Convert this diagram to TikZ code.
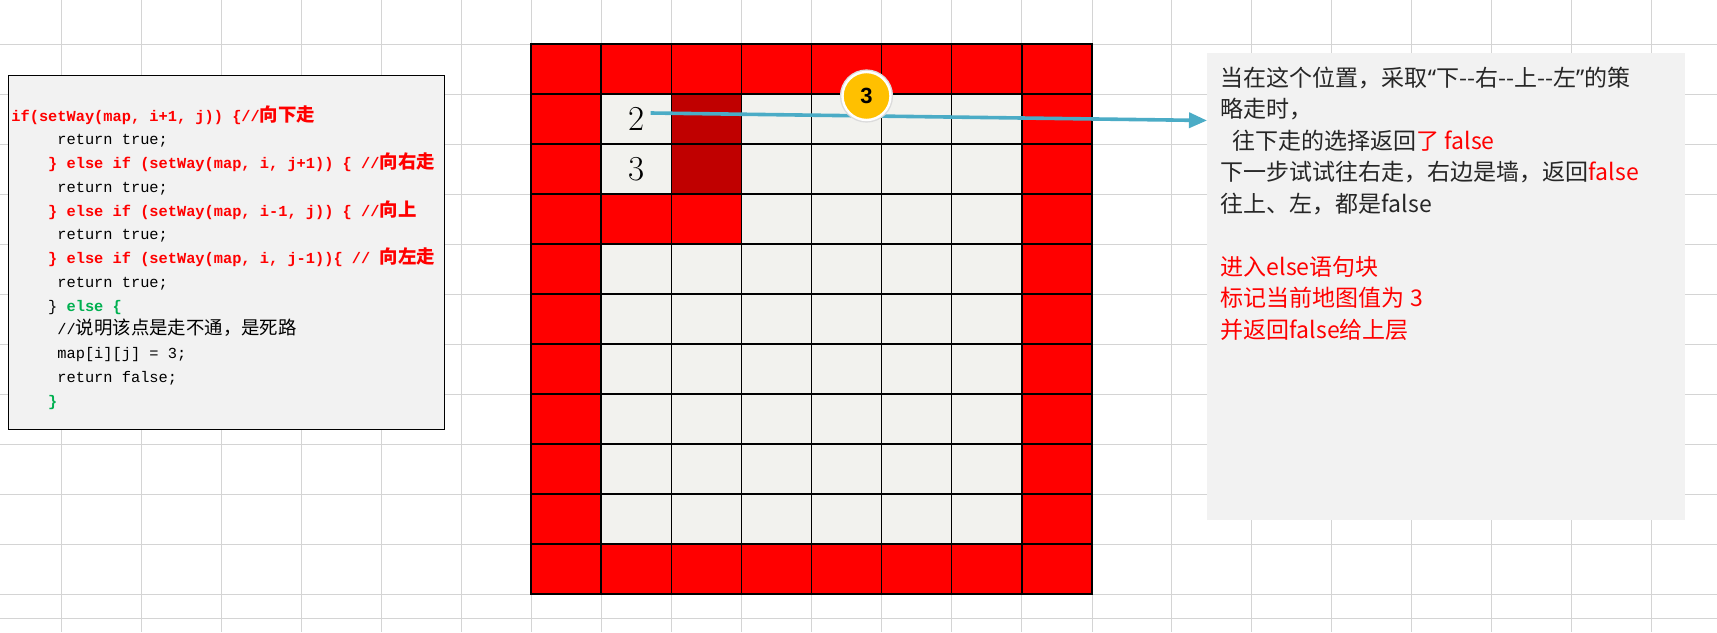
\documentclass[tikz,border=0pt]{standalone}
\usepackage{fontspec}
\usepackage{xcolor}
\usepackage{tikz}
\usetikzlibrary{arrows.meta,positioning}

\setmonofont{Liberation Mono}
\newfontfamily\cjk{Noto Sans CJK SC}
\newfontfamily\cjkcode[Scale=1.2]{Noto Sans CJK SC}
\newfontfamily\badgefont{Liberation Sans}
\newfontfamily\quotefont{Noto Sans}

\definecolor{sheetgray}{RGB}{212,212,212}
\definecolor{paper}{RGB}{242,242,242}
\definecolor{floortint}{RGB}{242,242,238}
\definecolor{wallred}{RGB}{255,0,0}
\definecolor{trailred}{RGB}{192,0,0}
\definecolor{okgreen}{RGB}{0,176,80}
\definecolor{aqua}{RGB}{75,172,198}
\definecolor{amber}{RGB}{255,192,0}

\begin{document}
\begin{tikzpicture}[
    x=0.5pt, y=-0.5pt,
    sheet/.style={draw=sheetgray, line width=0.5pt},
    cell/.style={rectangle, draw=black, line width=0.7pt, minimum width=35.06pt, minimum height=25pt, inner sep=0pt},
    digit/.style={inner sep=0pt, font=\fontsize{17.5pt}{20pt}\selectfont},
    codebox/.style={rectangle, draw=black, line width=0.6pt, fill=paper, anchor=north west, minimum width=217.9pt, minimum height=177.25pt},
    codetext/.style={anchor=north west, inner sep=0pt, align=left, font=\ttfamily\fontsize{7.67pt}{11.875pt}\selectfont},
    notebox/.style={rectangle, fill=paper, anchor=north west, minimum width=239pt, minimum height=233.5pt},
    notetext/.style={anchor=north west, inner sep=0pt, align=left, text=black!85, font=\cjk\fontsize{11.5pt}{15.75pt}\selectfont},
    badge/.style={circle, fill=amber, draw=white, line width=1.2pt, minimum size=24pt, inner sep=0pt, preaction={draw=black!14, line width=2.6pt}, font=\badgefont\bfseries\fontsize{11pt}{11pt}\selectfont},
    pointer/.style={draw=aqua, line width=1.8pt, -{Triangle[length=9pt, width=7.5pt]}}
]
\fill[white] (0,0) rectangle (1717,632);
\useasboundingbox (0,0) rectangle (1717,632);

% spreadsheet lines
\foreach \y in {44,94,144,194,244,294,344,394,444,494,544,594,618}
  \draw[sheet] (0,\y) -- (1717,\y);
\foreach \x in {61.4,141.4,221.4,301.4,381.4,461.4,1171.4,1251.4,1331.4,1411.4,1491.4,1571.4,1651.4}
  \draw[sheet] (\x,0) -- (\x,632);
\foreach \c in {0,...,8}
  \draw[sheet] ({531+70.125*\c},0) -- ({531+70.125*\c},632);

% code
\node [codebox] (code) at (7.7,74.5) {};
\node [codetext] (lines) at ([xshift=1.65pt, yshift=-15.3pt]code.north west) {%
\textcolor{wallred}{\bfseries if(setWay(map, i+1, j)) \{//{\cjkcode 向下走}}\\
\hspace*{3em}return true;\\
\hspace*{2.4em}\textcolor{wallred}{\bfseries \} else if (setWay(map, i, j+1)) \{ //{\cjkcode 向右走}}\\
\hspace*{3em}return true;\\
\hspace*{2.4em}\textcolor{wallred}{\bfseries \} else if (setWay(map, i-1, j)) \{ //{\cjkcode 向上}}\\
\hspace*{3em}return true;\\
\hspace*{2.4em}\textcolor{wallred}{\bfseries \} else if (setWay(map, i, j-1))\{ // {\cjkcode 向左走}}\\
\hspace*{3em}return true;\\
\hspace*{2.4em}\} \textcolor{okgreen}{\bfseries else \{}\\
\hspace*{3em}//{\cjkcode 说明该点是走不通，是死路}\\
\hspace*{3em}map[i][j] = 3;\\
\hspace*{3em}return false;\\
\hspace*{2.4em}\textcolor{okgreen}{\bfseries \}}};

% maze
\foreach \r in {0,...,10}
  \foreach \c in {0,...,7} {
    \def\tint{floortint}
    \ifnum\r=0 \def\tint{wallred}\fi
    \ifnum\r=10 \def\tint{wallred}\fi
    \ifnum\c=0 \def\tint{wallred}\fi
    \ifnum\c=7 \def\tint{wallred}\fi
    \ifnum\r=3 \ifnum\c<3 \def\tint{wallred}\fi\fi
    \ifnum\c=2 \ifnum\r>0 \ifnum\r<3 \def\tint{trailred}\fi\fi\fi
    \node [cell, fill=\tint] (m-\r-\c) at ({531+70.125*(\c+0.5)}, {44+50*(\r+0.5)}) {};
  }
\node [digit] (two) at (m-1-1) {2};
\node [digit] (three) at (m-2-1) {3};

% note
\node [notebox] (note) at (1207,53) {};
\node [notetext] (notes) at ([xshift=6.75pt, yshift=-6.65pt]note.north west) {%
当在这个位置，采取{\quotefont “}下-{}-右-{}-上-{}-左{\quotefont ”}的策\\
略走时，\\
\hspace*{0.5em}往下走的选择返回\textcolor{wallred}{了 false}\\
下一步试试往右走，右边是墙，返回\textcolor{wallred}{false}\\
往上、左，都是false\\[15.75pt]
\textcolor{wallred}{进入else语句块}\\
\textcolor{wallred}{标记当前地图值为 3}\\
\textcolor{wallred}{并返回false给上层}};

\path [pointer] ([xshift=3pt, yshift=3pt]two.east) -- ([yshift=-33.75pt]note.north west);
\node [badge] (badge) at (866.5,96) {3};

\end{tikzpicture}
\end{document}
